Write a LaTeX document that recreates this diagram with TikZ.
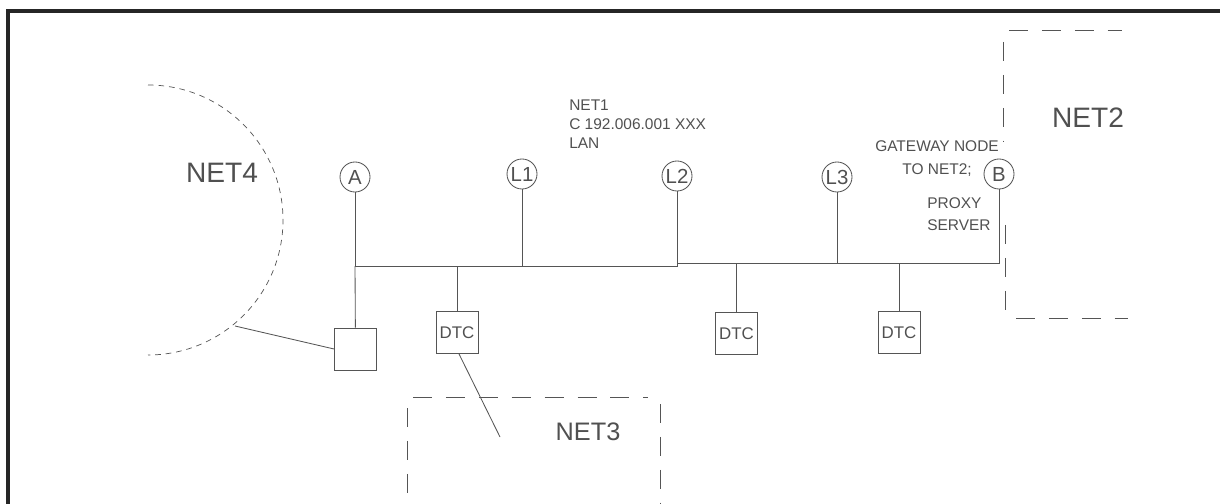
\documentclass[tikz,border=0pt]{standalone}
\usepackage{fontspec}
\setmainfont{Liberation Sans}
\usetikzlibrary{positioning}
\definecolor{LineGray}{HTML}{555555}
\definecolor{TextGray}{HTML}{505050}

\begin{document}
\begin{tikzpicture}[x=0.025cm,y=-0.025cm,every node/.style={text=TextGray,inner sep=0pt},
  lanline/.style={draw=LineGray,line width=0.6pt},
  netdash/.style={draw=LineGray,line width=0.6pt,dash pattern=on 13.5pt off 9.9pt},
  arcdash/.style={draw=LineGray,line width=0.5pt,dash pattern=on 4pt off 3.5pt},
  hostcirc/.style={circle,draw=LineGray,line width=0.6pt,minimum size=0.75cm,font=\fontsize{14.5}{14.5}\selectfont},
  dtcbox/.style={rectangle,draw=LineGray,line width=0.6pt,minimum size=1.05cm,font=\fontsize{12}{12}\selectfont}]
  \useasboundingbox (0,0) rectangle (1220,504);
  \clip (0,0) rectangle (1220,504);
  % frame
  \draw[line width=2.2pt,black!85] (8,530) -- (8,11) -- (1240,11);
  % hosts on the LAN
  \node[hostcirc] (A) at (355,177) {A};
  \node[hostcirc] (L1) at (522,174) {L1};
  \node[hostcirc] (L2) at (677,176) {L2};
  \node[hostcirc] (L3) at (837,177) {L3};
  \node[hostcirc] (B) at (999,174) {B};
  \node[dtcbox] (sq) at (355.5,349) {};
  \node[dtcbox] (dtc1) at (457,332.5) {DTC};
  \node[dtcbox] (dtc2) at (736.5,333.5) {DTC};
  \node[dtcbox] (dtc3) at (899,332.5) {DTC};
  % bus
  \coordinate (busA) at (355,266);
  \coordinate (busL2) at (677,266);
  \coordinate (busR) at (999,263);
  \draw[lanline] (A) -- (busA) -- (busL2) -- (L2);
  \draw[lanline] (busL2 |- busR) -- (busR) -- (B);
  \draw[lanline] (busA) -- (sq);
  \draw[lanline] (L1) -- (L1 |- busA);
  \draw[lanline] (dtc1) -- (dtc1 |- busA);
  \draw[lanline] (L3) -- (L3 |- busR);
  \draw[lanline] (dtc2) -- (dtc2 |- busR);
  \draw[lanline] (dtc3) -- (dtc3 |- busR);
  % NET4
  \draw[arcdash] (148,85) arc[start angle=-90,end angle=90,radius=135];
  \coordinate (net4edge) at (235,326);
  \draw[lanline] (net4edge) -- (sq.west);
  \node[font=\fontsize{20}{20}\selectfont] (net4) at (222,173) {NET4};
  % NET3
  \draw[netdash] (413,397) -- (648,397);
  \draw[netdash] (407,408) -- (407,504);
  \draw[netdash] (660,404) -- (660,504);
  \coordinate (net3end) at (500,437);
  \draw[lanline] ([xshift=0.05cm]dtc1.south) -- (net3end);
  \node[font=\fontsize{18}{18}\selectfont] (net3) at (588,432) {NET3};
  % NET2
  \draw[netdash] (1009,30) -- (1122,30);
  \draw[netdash] (1003,42) -- (1003,142);
  \draw[netdash] (1005,225) -- (1005,312);
  \draw[netdash] (1016,318) -- (1128,318);
  \node[font=\fontsize{20}{20}\selectfont] (net2) at (1088,118) {NET2};
  % labels
  \node[anchor=north west,align=left,font=\fontsize{11}{13.5}\selectfont] (net1) at (569,100) {NET1\\C 192.006.001 XXX\\LAN};
  \node[anchor=north,align=center,font=\fontsize{11}{16.3}\selectfont] (gw) at (937,140) {GATEWAY NODE\\TO NET2;};
  \node[anchor=north west,align=left,font=\fontsize{11}{15.6}\selectfont] (proxy) at (927,197) {PROXY\\SERVER};
\end{tikzpicture}
\end{document}
